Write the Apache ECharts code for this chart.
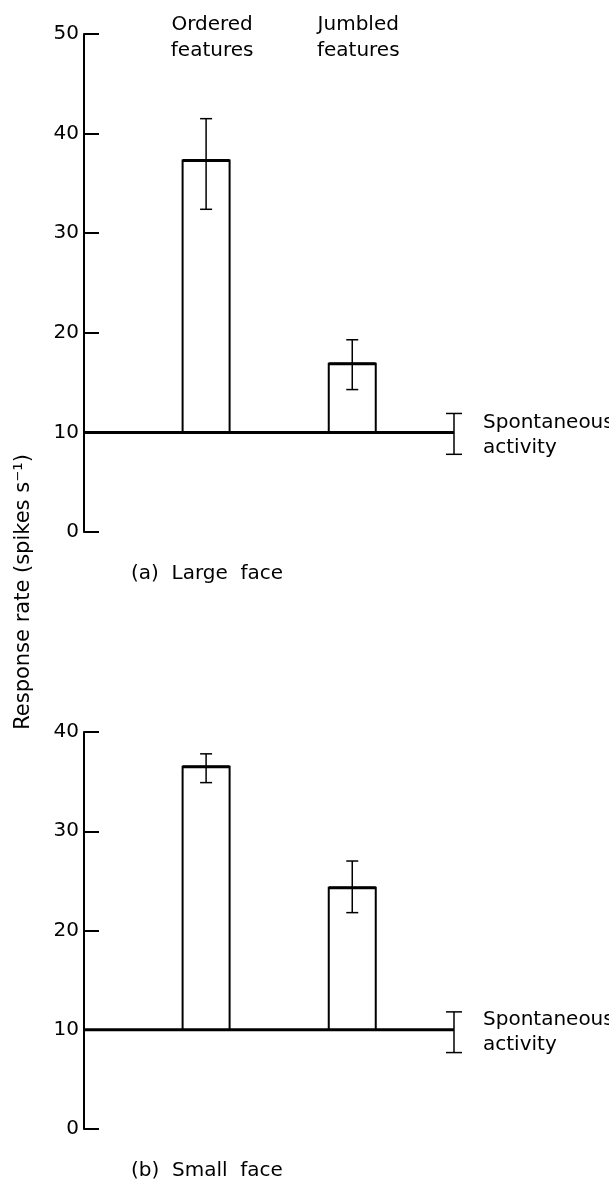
<!DOCTYPE html>
<html>
<head>
<meta charset="utf-8">
<script src="https://cdn.jsdelivr.net/npm/echarts@6/dist/echarts.min.js"></script>
<style>
  html, body { margin: 0; padding: 0; background: #fff; }
  #chart { width: 609px; height: 1180px; }
</style>
</head>
<body>
<div id="chart"></div>
<script>
// ---- data (spikes per second) ----
const conditions = ['Ordered\nfeatures', 'Jumbled\nfeatures'];
const panelTitles = ['(a)  Large  face', '(b)  Small  face'];
const yAxisTitle = 'Response rate (spikes s\u207B\u00B9)';

const largeFaceMean = [37.3, 16.9];
const largeFaceHigh = [41.5, 19.3];
const largeFaceLow  = [32.4, 14.3];

const smallFaceMean = [36.5, 24.3];
const smallFaceHigh = [37.8, 27.0];
const smallFaceLow  = [34.9, 21.8];

// spontaneous activity: mean, upper, lower
const spontaneousLarge = [10, 11.9, 7.8];
const spontaneousSmall = [10, 11.8, 7.7];
const spontaneousLabel = 'Spontaneous\nactivity';

const yMaxLarge = 50;
const yMaxSmall = 40;
const yStep = 10;

// ---- layout ----
const FONT = 'DejaVu Sans';
const INK = '#000';
const slotX = [33, 72.5];   // horizontal slot of each condition on a 0..100 scale
const baselineEnd = 100;
const barWidthPx = 47;

const chart = echarts.init(document.getElementById('chart'), null, { renderer: 'canvas' });

function buildRows(mean, high, low) {
  return mean.map((m, i) => [slotX[i], m, high[i], low[i]]);
}

function barRenderer(base) {
  return function (params, api) {
    const x = api.value(0);
    const top = api.coord([x, api.value(1)]);
    const bot = api.coord([x, base]);
    const hi = api.coord([x, api.value(2)]);
    const lo = api.coord([x, api.value(3)]);
    const l = top[0] - barWidthPx / 2, r = top[0] + barWidthPx / 2;
    const cap = 6;
    return {
      type: 'group',
      children: [
        { type: 'polyline', shape: { points: [[l, bot[1]], [l, top[1]], [r, top[1]], [r, bot[1]]] },
          style: { stroke: INK, lineWidth: 2, fill: null } },
        { type: 'line', shape: { x1: l, y1: top[1], x2: r, y2: top[1] },
          style: { stroke: INK, lineWidth: 3 } },
        { type: 'line', shape: { x1: top[0], y1: hi[1], x2: top[0], y2: lo[1] },
          style: { stroke: INK, lineWidth: 1.5 } },
        { type: 'line', shape: { x1: top[0] - cap, y1: hi[1], x2: top[0] + cap, y2: hi[1] },
          style: { stroke: INK, lineWidth: 1.5 } },
        { type: 'line', shape: { x1: top[0] - cap, y1: lo[1], x2: top[0] + cap, y2: lo[1] },
          style: { stroke: INK, lineWidth: 1.5 } }
      ]
    };
  };
}

function spontaneousRenderer(params, api) {
  const x = api.value(0);
  const mid = api.coord([x, api.value(1)]);
  const hi = api.coord([x, api.value(2)]);
  const lo = api.coord([x, api.value(3)]);
  const start = api.coord([0, api.value(1)]);
  const cap = 8;
  return {
    type: 'group',
    children: [
      { type: 'line', shape: { x1: start[0], y1: mid[1], x2: mid[0], y2: mid[1] },
        style: { stroke: INK, lineWidth: 3 } },
      { type: 'line', shape: { x1: mid[0], y1: hi[1], x2: mid[0], y2: lo[1] },
        style: { stroke: INK, lineWidth: 1.5 } },
      { type: 'line', shape: { x1: mid[0] - cap, y1: hi[1], x2: mid[0] + cap, y2: hi[1] },
        style: { stroke: INK, lineWidth: 1.5 } },
      { type: 'line', shape: { x1: mid[0] - cap, y1: lo[1], x2: mid[0] + cap, y2: lo[1] },
        style: { stroke: INK, lineWidth: 1.5 } },
      { type: 'text', x: mid[0] + 29, y: mid[1] + 3,
        style: { text: spontaneousLabel, font: '20px "' + FONT + '"', fill: INK,
                 align: 'left', verticalAlign: 'middle', lineHeight: 25 } }
    ]
  };
}

function yAxis(gridIndex, max) {
  return {
    type: 'value', gridIndex, min: 0, max, interval: yStep,
    axisLine: { show: true, lineStyle: { color: INK, width: 2 } },
    axisTick: { show: true, inside: true, length: 15, lineStyle: { color: INK, width: 2 } },
    axisLabel: { color: INK, fontSize: 20, fontFamily: FONT, margin: 5 },
    splitLine: { show: false }
  };
}

function xAxis(gridIndex) {
  return { type: 'value', gridIndex, min: 0, max: 100, show: false };
}

chart.setOption({
  animation: false,
  backgroundColor: '#fff',
  grid: [
    { left: 84, top: 34, width: 370, height: 498 },
    { left: 84, top: 732, width: 370, height: 397 }
  ],
  xAxis: [xAxis(0), xAxis(1)],
  yAxis: [yAxis(0, yMaxLarge), yAxis(1, yMaxSmall)],
  series: [
    { type: 'custom', xAxisIndex: 0, yAxisIndex: 0,
      data: [[baselineEnd].concat(spontaneousLarge)], renderItem: spontaneousRenderer },
    { type: 'custom', xAxisIndex: 0, yAxisIndex: 0,
      data: buildRows(largeFaceMean, largeFaceHigh, largeFaceLow),
      renderItem: barRenderer(spontaneousLarge[0]) },
    { type: 'custom', xAxisIndex: 1, yAxisIndex: 1,
      data: [[baselineEnd].concat(spontaneousSmall)], renderItem: spontaneousRenderer },
    { type: 'custom', xAxisIndex: 1, yAxisIndex: 1,
      data: buildRows(smallFaceMean, smallFaceHigh, smallFaceLow),
      renderItem: barRenderer(spontaneousSmall[0]) }
  ]
});

// headings, panel captions and the shared axis title, placed through the axis scales
const textStyle = (text, extra) => Object.assign({ text, font: '20px "' + FONT + '"', fill: INK }, extra);
const graphics = [];
conditions.forEach((c, i) => {
  const px = chart.convertToPixel({ xAxisIndex: 0 }, slotX[i]);
  graphics.push({ type: 'text', x: px + 6, y: 12,
    style: textStyle(c, { align: 'center', verticalAlign: 'top', lineHeight: 26 }) });
});
[0, 1].forEach((g) => {
  const p = chart.convertToPixel({ gridIndex: g }, [0, 0]);
  graphics.push({ type: 'text', x: p[0] + 47, y: p[1] + 42,
    style: textStyle(panelTitles[g], { align: 'left', verticalAlign: 'middle' }) });
});
graphics.push({ type: 'text', x: 24, y: 592, rotation: Math.PI / 2,
  style: textStyle(yAxisTitle, { align: 'center', verticalAlign: 'middle', font: '21px "' + FONT + '"' }) });
chart.setOption({ graphic: graphics });
</script>
</body>
</html>
